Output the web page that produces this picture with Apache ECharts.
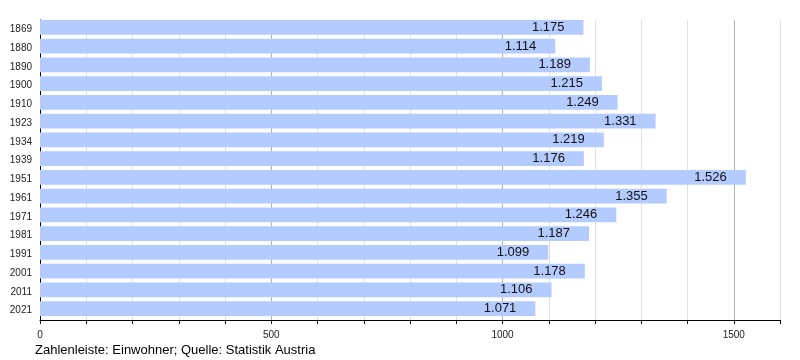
<!DOCTYPE html>
<html><head><meta charset="utf-8">
<script src="https://cdn.jsdelivr.net/npm/echarts@6/dist/echarts.min.js"></script>
<style>html,body{margin:0;padding:0;background:#fff}#c{width:800px;height:360px}</style>
</head><body><div id="c"></div>
<script>
var years = ['1869','1880','1890','1900','1910','1923','1934','1939','1951','1961','1971','1981','1991','2001','2011','2021'];
var population = [1175,1114,1189,1215,1249,1331,1219,1176,1526,1355,1246,1187,1099,1178,1106,1071];
var axisLabels = [0, 500, 1000, 1500];
var footer = 'Zahlenleiste: Einwohner; Quelle: Statistik Austria';

function de(n){ return String(n).replace(/\B(?=(\d{3})+(?!\d))/g, '.'); }
var font = 'Liberation Sans, Arial, sans-serif';
var chart = echarts.init(document.getElementById('c'), null, {renderer:'canvas'});
chart.setOption({
  animation:false,
  backgroundColor:'#fff',
  textStyle:{fontFamily:font},
  title:{text:footer, left:35, top:344, padding:0, textStyle:{fontSize:13, fontWeight:'normal', color:'#000', fontFamily:font}},
  grid:{left:40, right:20, top:20, bottom:40},
  xAxis:[{
    type:'value', min:0, max:1600, interval:100, position:'bottom',
    axisLine:{show:true, lineStyle:{color:'#000', width:1}},
    axisTick:{show:true, length:4, lineStyle:{color:'#000'}},
    axisLabel:{color:'#222', fontSize:10, margin:10, fontFamily:font,
      formatter:function(v){ return axisLabels.indexOf(v) >= 0 ? String(v) : ''; }},
    splitLine:{show:true, showMinLine:false, lineStyle:{color:'#e0e0e0', width:1}}
  },{
    type:'value', min:0, max:1600, interval:500, position:'bottom',
    axisLine:{show:false}, axisTick:{show:false}, axisLabel:{show:false},
    splitLine:{show:true, showMinLine:false, showMaxLine:false, lineStyle:{color:'#b0b0b0', width:1}}
  }],
  yAxis:{
    type:'category', data:years, inverse:true,
    axisLine:{show:true, lineStyle:{color:'#000', width:1}},
    axisTick:{show:false},
    axisLabel:{color:'#222', fontSize:10, margin:8, fontFamily:font}
  },
  series:[{
    type:'bar', xAxisIndex:0, data:population, barWidth:14.75, barGap:'0%',
    itemStyle:{color:'#b3cbfe'},
    label:{show:true, position:'insideRight', offset:[-14,0], color:'#111', fontSize:13, fontFamily:font,
      formatter:function(p){ return de(p.value); }}
  },{
    type:'bar', xAxisIndex:0, data:[], barWidth:4, barGap:'0%', silent:true
  }]
});
</script></body></html>
